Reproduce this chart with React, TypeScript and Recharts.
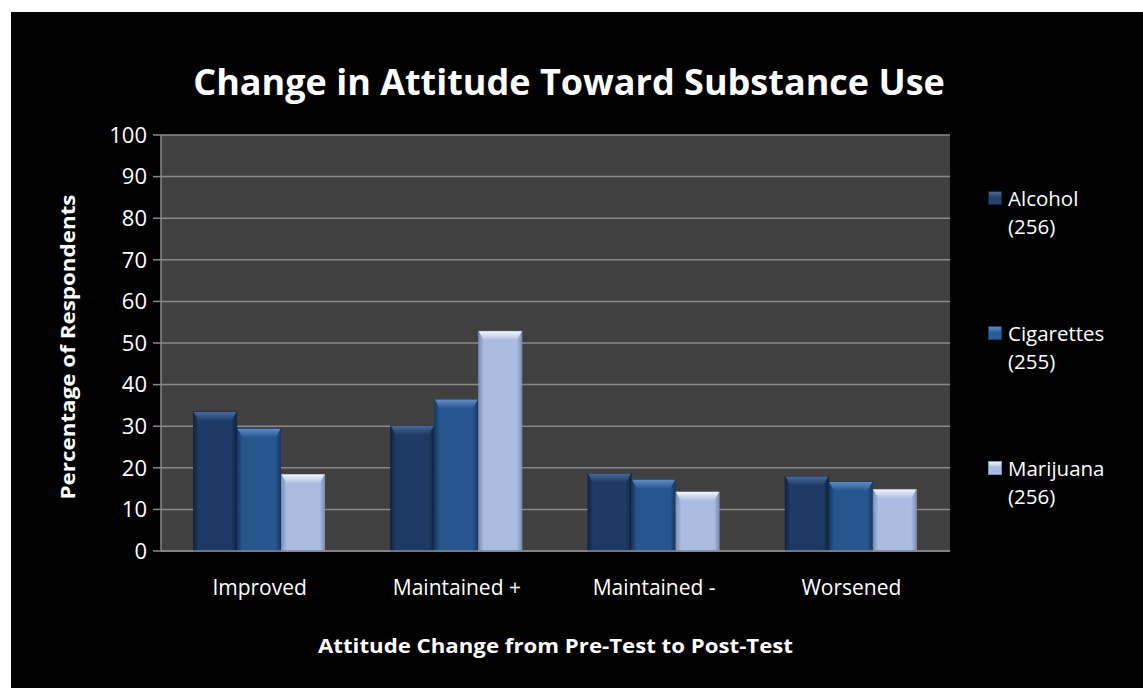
import React from 'react';
import { BarChart, Bar, XAxis, YAxis, CartesianGrid, Legend } from 'recharts';

const categories = ['Improved', 'Maintained +', 'Maintained -', 'Worsened'];
const alcohol = [33.4, 30.1, 18.6, 17.9];
const cigarettes = [29.4, 36.4, 17.1, 16.6];
const marijuana = [18.4, 52.8, 14.2, 14.8];
const seriesNames = ['Alcohol (256)', 'Cigarettes (255)', 'Marijuana (256)'];
const yTicks = [0, 10, 20, 30, 40, 50, 60, 70, 80, 90, 100];

const data = categories.map((name, i) => ({
  name,
  alcohol: alcohol[i],
  cigarettes: cigarettes[i],
  marijuana: marijuana[i],
}));

const FONT = '"Open Sans", Lato, sans-serif';

// bevel look per series: edge, body, top highlight
const palette = [
  { key: 'alcohol', edge: '#11243f', body: '#1d3b66', top: '#4a6a98', swatch: '#24436f' },
  { key: 'cigarettes', edge: '#183a66', body: '#27568f', top: '#5f8cc8', swatch: '#2c5c98' },
  { key: 'marijuana', edge: '#7f91b5', body: '#aabde0', top: '#f2f6fd', swatch: '#a9bbdd' },
];

const makeShape = (idx: number) => (props: any) => {
  const { x, y, width, height } = props;
  if (!height || height <= 0) return null;
  const p = palette[idx];
  const b = Math.min(9, height / 2);
  const side = Math.min(5, width / 6);
  return (
    <g>
      <rect x={x} y={y} width={width} height={height} fill={`url(#body${idx})`} stroke={p.edge} strokeWidth={1} />
      <polygon
        points={`${x},${y} ${x + width},${y} ${x + width - side},${y + b} ${x + side},${y + b}`}
        fill={`url(#top${idx})`}
      />
    </g>
  );
};

const LegendContent = () => (
  <div style={{ fontFamily: FONT, color: '#fff', fontSize: 20.5, lineHeight: '28px' }}>
    {seriesNames.map((n, i) => {
      const [a, b] = n.split(' ');
      return (
        <div key={n} style={{ display: 'flex', alignItems: 'flex-start', marginBottom: i < 2 ? 79 : 0 }}>
          <div
            style={{
              width: 14,
              height: 14,
              marginTop: 7,
              marginRight: 6,
              background: `linear-gradient(180deg, ${palette[i].top} 0%, ${palette[i].swatch} 45%, ${palette[i].swatch} 100%)`,
              border: `1px solid ${palette[i].edge}`,
              boxSizing: 'border-box',
            }}
          />
          <div style={{ whiteSpace: 'nowrap' }}>
            <div>{a}</div>
            <div>{b}</div>
          </div>
        </div>
      );
    })}
  </div>
);

export default function App() {
  return (
    <div style={{ position: 'fixed', left: 11, top: 12, width: 1132, height: 676, background: '#000', overflow: 'hidden' }}>
      <div
        style={{
          position: 'absolute',
          left: 0,
          width: 1116,
          top: 45,
          textAlign: 'center',
          color: '#fff',
          fontFamily: FONT,
          fontWeight: 700,
          fontSize: 36,
          lineHeight: '50px',
          whiteSpace: 'nowrap',
        }}
      >
        Change in Attitude Toward Substance Use
      </div>
      <BarChart
        width={1132}
        height={676}
        data={data}
        margin={{ top: 123, right: 193, bottom: 20, left: 90 }}
        barCategoryGap="16.5%"
        barGap={1}
      >
        <defs>
          {palette.map((p, i) => (
            <React.Fragment key={p.key}>
              <linearGradient id={`body${i}`} x1="0" y1="0" x2="1" y2="0">
                <stop offset="0%" stopColor={p.edge} />
                <stop offset="12%" stopColor={p.body} />
                <stop offset="88%" stopColor={p.body} />
                <stop offset="100%" stopColor={p.edge} />
              </linearGradient>
              <linearGradient id={`top${i}`} x1="0" y1="0" x2="0" y2="1">
                <stop offset="0%" stopColor={p.top} />
                <stop offset="100%" stopColor={p.body} />
              </linearGradient>
            </React.Fragment>
          ))}
        </defs>
        <CartesianGrid vertical={false} stroke="#8a8a8a" strokeWidth={1.5} fill="#404040" />
        <XAxis
          dataKey="name"
          height={117}
          tickLine={false}
          axisLine={{ stroke: '#8a8a8a', strokeWidth: 1.5 }}
          tickMargin={23}
          tick={{ fill: '#fff', fontSize: 21, fontFamily: FONT }}
          label={{
            content: (props: any) => {
              const vb = props.viewBox;
              return (
                <text
                  x={vb.x + vb.width / 2}
                  y={vb.y + 102}
                  textAnchor="middle"
                  fill="#fff"
                  fontFamily={FONT}
                  fontWeight={700}
                  fontSize={20}
                  textLength={475}
                  lengthAdjust="spacingAndGlyphs"
                >
                  Attitude Change from Pre-Test to Post-Test
                </text>
              );
            },
          }}
        />
        <YAxis
          width={60}
          domain={[0, 100]}
          ticks={yTicks}
          interval={0}
          tickSize={8}
          tickMargin={6}
          tickLine={{ stroke: '#8a8a8a', strokeWidth: 1.5 }}
          axisLine={{ stroke: '#8a8a8a', strokeWidth: 1.5 }}
          tick={{ fill: '#fff', fontSize: 22, fontFamily: FONT }}
          label={{
            content: (props: any) => {
              const vb = props.viewBox;
              const cx = vb.x - 34;
              const cy = vb.y + vb.height / 2 + 4;
              return (
                <text
                  x={cx}
                  y={cy}
                  transform={`rotate(-90 ${cx} ${cy})`}
                  textAnchor="middle"
                  dominantBaseline="central"
                  fill="#fff"
                  fontFamily={FONT}
                  fontWeight={700}
                  fontSize={20}
                  textLength={305}
                  lengthAdjust="spacingAndGlyphs"
                >
                  Percentage of Respondents
                </text>
              );
            },
          }}
        />
        <Legend
          layout="vertical"
          align="center"
          verticalAlign="middle"
          content={<LegendContent />}
          wrapperStyle={{ left: 977, top: 172, width: 155 }}
        />
        <Bar dataKey="alcohol" name={seriesNames[0]} shape={makeShape(0)} isAnimationActive={false} />
        <Bar dataKey="cigarettes" name={seriesNames[1]} shape={makeShape(1)} isAnimationActive={false} />
        <Bar dataKey="marijuana" name={seriesNames[2]} shape={makeShape(2)} isAnimationActive={false} />
      </BarChart>
    </div>
  );
}
